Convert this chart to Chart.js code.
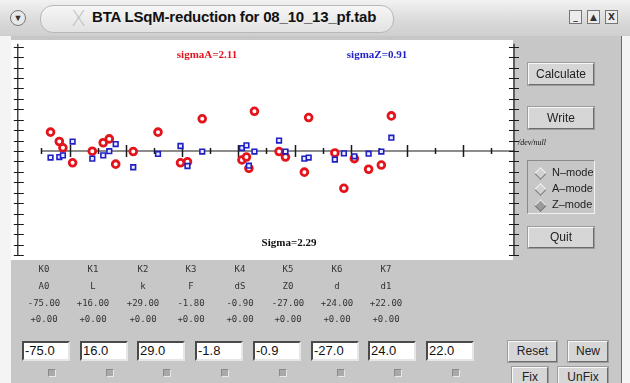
<!DOCTYPE html>
<html>
<head>
<meta charset="utf-8">
<script src="https://cdn.jsdelivr.net/npm/chart.js@4.4.0/dist/chart.umd.min.js"></script>
<style>
  html, body { margin:0; padding:0; width:630px; height:383px; overflow:hidden; background:#f4f4f4; }
  body { position:relative; font-family:"Liberation Sans", Arial, sans-serif; }
  .abs { position:absolute; }
  #frame { left:11px; top:36px; width:610px; height:347px; background:#c7c7c7; border-right:1px solid #6a6a6a; }
  #titlebar { left:0; top:0; width:630px; height:36px; background:linear-gradient(#f2f2f2, #d9d9d9 60%, #cfcfcf); }
  #pill { left:40px; top:5px; width:352px; height:26px; border-radius:13px; background:linear-gradient(#f6f6f6,#e2e2e2); border:1px solid #b8b8b8; }
  #menu { left:10px; top:10px; width:14px; height:14px; border-radius:50%; background:#e8e8e8; border:1px solid #777; font-size:9px; line-height:14px; text-align:center; color:#333; }
  #xmark { left:71px; top:6px; font:300 22px "DejaVu Sans", sans-serif; color:#c2c2c2; }
  #title { left:92px; top:8px; font:bold 15px "Liberation Sans", Arial, sans-serif; color:#111; white-space:nowrap; letter-spacing:-0.2px; }
  .wbtn { top:10px; width:11px; height:12px; border:1px solid #777; background:#ececec; font:bold 9px "DejaVu Sans", sans-serif; line-height:12px; text-align:center; color:#333; }
  #plotbg { left:11px; top:40px; width:502px; height:220px; background:#fff; }
  #plot { left:11px; top:40px; }
  .note { font:bold 11px "Liberation Serif", "DejaVu Serif", serif; white-space:nowrap; transform:translateX(-50%); }
  .btn { background:#d6d6d6; border:1px solid; border-color:#f8f8f8 #6c6c6c #6c6c6c #f8f8f8; box-shadow:0 0 0 1px #9c9c9c; font:12px "Liberation Sans", Arial, sans-serif; color:#222; text-align:center; box-sizing:border-box; }
  #modes { left:527px; top:160px; width:68px; height:54px; border:1px solid; border-color:#8a8a8a #f2f2f2 #f2f2f2 #8a8a8a; box-sizing:border-box; }
  .radio { font:11px "Liberation Sans", Arial, sans-serif; color:#222; }
  .dia { width:7px; height:7px; transform:rotate(45deg); background:#d0d0d0; border:1px solid; border-color:#f4f4f4 #777 #777 #f4f4f4; }
  .lbl { font:9px "DejaVu Sans Mono", monospace; color:#333; transform:translateX(-50%); white-space:nowrap; }
  .inp { width:48px; height:20px; background:#fff; box-sizing:border-box; border:2px solid; border-color:#4a4a4a #e6e6e6 #e6e6e6 #4a4a4a; font:13px "Liberation Sans", Arial, sans-serif; line-height:16px; padding-left:1px; color:#111; }
  .chk { width:8px; height:8px; background:#a9a9a9; border:1px solid; border-color:#8a8a8a #e8e8e8 #e8e8e8 #8a8a8a; box-sizing:border-box; }
  #devnull { left:518px; top:138px; font:italic 8px "Liberation Serif", serif; color:#111; }
</style>
</head>
<body>
<div id="frame" class="abs"></div>
<div id="titlebar" class="abs"></div>
<div id="pill" class="abs"></div>
<div id="menu" class="abs">&#9660;</div>
<div id="xmark" class="abs">X</div>
<div id="title" class="abs">BTA LSqM-reduction for 08_10_13_pf.tab</div>
<div class="abs wbtn" style="left:569px">_</div>
<div class="abs wbtn" style="left:587px">&#9650;</div>
<div class="abs wbtn" style="left:605px">X</div>

<div id="plotbg" class="abs"></div>
<canvas id="plot" class="abs" width="510" height="222"></canvas>

<div class="abs note" style="left:207px;top:48px;color:#e0141c">sigmaA=2.11</div>
<div class="abs note" style="left:377px;top:48px;color:#2222c8">sigmaZ=0.91</div>
<div class="abs note" style="left:289px;top:236px;color:#111">Sigma=2.29</div>
<div id="devnull" class="abs">/dev/null</div>

<div class="abs btn" style="left:528px;top:63px;width:66px;height:22px;line-height:20px">Calculate</div>
<div class="abs btn" style="left:528px;top:107px;width:66px;height:22px;line-height:20px">Write</div>
<div id="modes" class="abs"></div>
<div class="abs dia" style="left:536px;top:169px"></div>
<div class="abs radio" style="left:552px;top:166px">N&#8211;mode</div>
<div class="abs dia" style="left:536px;top:185px"></div>
<div class="abs radio" style="left:552px;top:182px">A&#8211;mode</div>
<div class="abs dia" style="left:536px;top:201px;background:#9a9a9a"></div>
<div class="abs radio" style="left:552px;top:198px">Z&#8211;mode</div>
<div class="abs btn" style="left:528px;top:227px;width:66px;height:21px;line-height:19px">Quit</div>

<div id="table"></div>

<div class="abs btn" style="left:508px;top:341px;width:49px;height:21px;line-height:19px">Reset</div>
<div class="abs btn" style="left:568px;top:341px;width:40px;height:21px;line-height:19px">New</div>
<div class="abs btn" style="left:512px;top:367px;width:36px;height:21px;line-height:19px">Fix</div>
<div class="abs btn" style="left:558px;top:367px;width:50px;height:21px;line-height:19px">UnFix</div>

<script>
// Fit parameters shown under the plot
const paramNames  = ['K0', 'K1', 'K2', 'K3', 'K4', 'K5', 'K6', 'K7'];
const paramSymbols = ['A0', 'L', 'k', 'F', 'dS', 'Z0', 'd', 'd1'];
const paramValues = ['-75.00', '+16.00', '+29.00', '-1.80', '-0.90', '-27.00', '+24.00', '+22.00'];
const paramErrors = ['+0.00', '+0.00', '+0.00', '+0.00', '+0.00', '+0.00', '+0.00', '+0.00'];
const paramInputs = ['-75.0', '16.0', '29.0', '-1.8', '-0.9', '-27.0', '24.0', '22.0'];

// Residuals per star: abscissa, A residual (red rings), Z residual (blue squares)
const starPos = [-16.9, -9.1, -5.9, 2.7, 20.2, 29.9, 35.3, 41.0, 56.6, 78.6, 98.6, 104.8, 117.9,
                 153.2, 157.2, 159.4, 164.3, 186.2, 191.9, 208.7, 212.5, 235.8, 243.8, 253.1, 265.8, 277.1, 286.0];
const residA  = [1.81, 0.91, 0.30, -1.13, -0.02, 0.79, 1.16, -1.26, -0.05, 1.81, -1.13, -1.04, 3.09,
                 -0.86, -0.58, -1.66, 3.81, -0.05, -0.58, -2.03, 3.21, -0.19, -3.58, -0.73, -1.75, -1.35, 3.37];
const residZ  = [-0.63, -0.58, -0.42, 0.91, -0.73, -0.42, -0.02, 0.67, -1.56, -0.28, 0.48, -1.44, -0.05,
                 0.28, 0.54, -1.41, -0.05, 1.00, -0.05, -0.73, -0.63, -0.82, -0.23, -0.51, -0.26, -0.05, 1.28];

// Axis extents and tick steps
const xMin = -46, xMax = 395, xLineStart = -25, xStep = 25, xMajor = 50;
const yMin = -10, yMax = 10, yStep = 1;

// Parameter table and input row
const table = document.getElementById('table');
const colX = [44, 93, 143, 191, 240, 288, 337, 386];
const rowY = [264, 281, 298, 314];
[paramNames, paramSymbols, paramValues, paramErrors].forEach((row, r) => {
  row.forEach((txt, i) => {
    const d = document.createElement('div');
    d.className = 'abs lbl';
    d.style.left = colX[i] + 'px';
    d.style.top = rowY[r] + 'px';
    d.textContent = txt;
    table.appendChild(d);
  });
});
paramInputs.forEach((txt, i) => {
  const left = Math.round(22 + i * 57.7);
  const inp = document.createElement('div');
  inp.className = 'abs inp';
  inp.style.left = left + 'px';
  inp.style.top = '341px';
  inp.textContent = txt;
  table.appendChild(inp);
  const c = document.createElement('div');
  c.className = 'abs chk';
  c.style.left = (left + 26) + 'px';
  c.style.top = '369px';
  table.appendChild(c);
});

// Crossing axes: frame axes left/right and the zero line with ticks
const crossAxes = {
  id: 'crossAxes',
  beforeDatasetsDraw(chart) {
    const { ctx, chartArea: a, scales: { x, y } } = chart;
    ctx.save();
    ctx.strokeStyle = '#1a1a1a';
    ctx.lineWidth = 1.2;
    const y0 = y.getPixelForValue(0);
    ctx.beginPath();
    // left and right vertical axes
    [a.left, a.right].forEach((px, side) => {
      ctx.moveTo(px, a.top - 3);
      ctx.lineTo(px, a.bottom);
      for (let v = yMin; v <= yMax; v += yStep) {
        const py = Math.round(y.getPixelForValue(v)) + 0.5;
        if (side === 0) { ctx.moveTo(px - 4, py); ctx.lineTo(px + 6, py); }
        else { ctx.moveTo(px - 5, py); ctx.lineTo(px + 5, py); }
      }
    });
    // zero line
    ctx.moveTo(x.getPixelForValue(xLineStart), y0);
    ctx.lineTo(a.right, y0);
    ctx.stroke();
    ctx.lineWidth = 1.5;
    ctx.beginPath();
    for (let v = xLineStart; v <= xMax; v += xStep) {
      const px = Math.round(x.getPixelForValue(v)) + 0.5;
      const h = (v % xMajor === 0) ? 6 : 3;
      ctx.moveTo(px, y0 - h);
      ctx.lineTo(px, y0 + h);
    }
    ctx.stroke();
    ctx.restore();
  }
};

new Chart(document.getElementById('plot'), {
  type: 'scatter',
  data: {
    datasets: [
      {
        label: 'Z',
        data: starPos.map((v, i) => ({ x: v, y: residZ[i] })),
        pointStyle: 'rect',
        radius: 3.3,
        borderWidth: 1.6,
        borderColor: '#1e1ec4',
        backgroundColor: '#e8ebff'
      },
      {
        label: 'A',
        data: starPos.map((v, i) => ({ x: v, y: residA[i] })),
        pointStyle: 'circle',
        radius: 3.4,
        borderWidth: 2.8,
        borderColor: '#e3141c',
        backgroundColor: '#ffffff'
      }
    ]
  },
  options: {
    responsive: false,
    animation: false,
    devicePixelRatio: 1,
    layout: { padding: { left: 5, right: 7, top: 3, bottom: 4 } },
    plugins: { legend: { display: false }, tooltip: { enabled: false } },
    scales: {
      x: { type: 'linear', min: xMin, max: xMax, display: false },
      y: { type: 'linear', min: yMin, max: yMax, display: false }
    }
  },
  plugins: [crossAxes]
});
</script>
</body>
</html>
